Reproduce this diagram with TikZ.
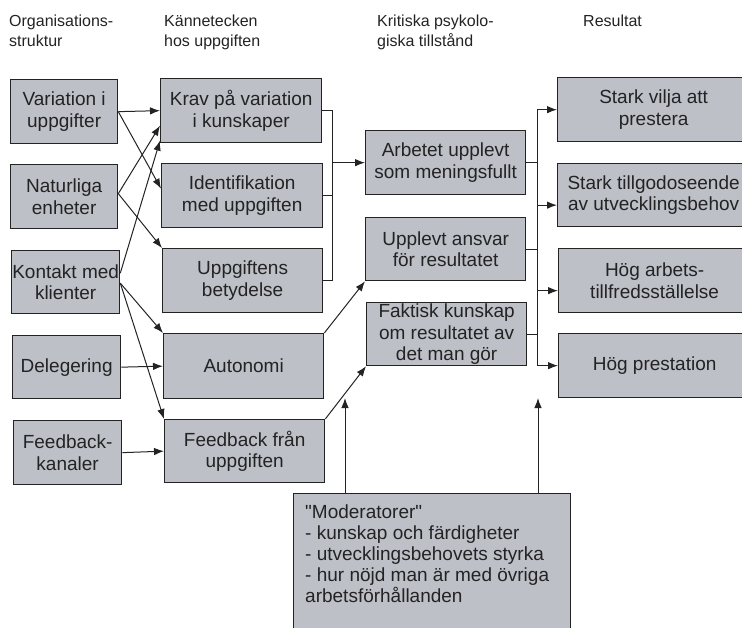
\documentclass[tikz,border=0pt]{standalone}
\usepackage{fontspec}
\setmainfont{Liberation Sans}
\newfontfamily\rawfont[Ligatures=TeXOff]{Liberation Sans}
\usetikzlibrary{arrows.meta}
\definecolor{boxfill}{RGB}{190,192,200}
\definecolor{ink}{RGB}{35,35,35}
\tikzset{
  box/.style={draw=ink, line width=1.3pt, fill=boxfill, rectangle, anchor=north west,
    inner sep=0pt, align=center, text=ink, font=\fontsize{19}{21.5}\selectfont},
  hdr/.style={anchor=north west, inner sep=0pt, align=left, text=ink,
    font=\fontsize{16}{20}\selectfont},
  conn/.style={draw=ink, line width=1pt},
  arr/.style={conn, -{Latex[length=10pt,width=7.5pt]}}
}
\begin{document}
\begin{tikzpicture}[x=1pt,y=-1pt]
\useasboundingbox (0,0) rectangle (742,627);
\begin{scope}
\clip (0,0) rectangle (742,627);
% headers
\node[hdr] (h1) at (9,15) {Organisations-\\struktur};
\node[hdr] (h2) at (164,15) {Kännetecken\\hos uppgiften};
\node[hdr] (h3) at (377,15) {Kritiska psykolo-\\giska tillstånd};
\node[hdr] (h4) at (583,15) {Resultat};
% column 1
\node[box, minimum width=107pt, minimum height=64pt] (v1) at (10,79) {Variation i\\uppgifter};
\node[box, minimum width=107pt, minimum height=64pt] (n1) at (10,164) {Naturliga\\enheter};
\node[box, minimum width=108pt, minimum height=63pt] (k1) at (11,250) {Kontakt med\\klienter};
\node[box, minimum width=108pt, minimum height=63pt] (d1) at (12,335) {Delegering};
\node[box, minimum width=108pt, minimum height=64pt] (f1) at (13,420) {Feedback-\\kanaler};
% column 2
\node[box, minimum width=161pt, minimum height=64pt] (krav) at (160,78) {Krav på variation\\i kunskaper};
\node[box, minimum width=161pt, minimum height=64pt] (ident) at (161,163) {Identifikation\\med uppgiften};
\node[box, minimum width=160pt, minimum height=64pt] (uppg) at (162,248) {Uppgiftens\\betydelse};
\node[box, minimum width=160pt, minimum height=65pt] (auto) at (163,333) {Autonomi};
\node[box, minimum width=160pt, minimum height=63pt] (fb) at (164,419) {Feedback från\\uppgiften};
% column 3
\node[box, minimum width=160pt, minimum height=64pt] (arb) at (365,130) {Arbetet upplevt\\som meningsfullt};
\node[box, minimum width=160pt, minimum height=63pt] (ans) at (365,217) {Upplevt ansvar\\för resultatet};
\node[box, minimum width=160pt, minimum height=63pt] (fak) at (366,302) {Faktisk kunskap\\om resultatet av\\det man gör};
% column 4
\node[box, minimum width=192pt, minimum height=64pt] (sv) at (557,77) {Stark vilja att\\prestera};
\node[box, minimum width=192pt, minimum height=63pt] (st) at (557,163) {Stark tillgodoseende\\av utvecklingsbehov};
\node[box, minimum width=192pt, minimum height=64pt] (ha) at (558,248) {Hög arbets-\\tillfredsställelse};
\node[box, minimum width=192pt, minimum height=64pt] (hp) at (558,333) {Hög prestation};
% moderators
\node[box, minimum width=277pt, minimum height=150pt] (mod) at (293,493) {};
\node[anchor=north west, inner sep=0pt, align=left, text=ink,
  font=\rawfont\fontsize{19}{20.8}\selectfont] (modtxt) at (305,505)
  {"Moderatorer"\\- kunskap och färdigheter\\- utvecklingsbehovets styrka\\- hur nöjd man är med övriga\\arbetsförhållanden};
\end{scope}
% column 1 -> column 2
\draw[arr] (v1.east) -- (krav.west);
\draw[arr] (v1.east) -- ([yshift=7pt]ident.west);
\draw[arr] ([yshift=3pt]n1.east) -- ([yshift=-15pt]krav.west);
\draw[arr] ([yshift=3pt]n1.east) -- (uppg.north west);
\draw[arr] ([yshift=9pt]k1.east) -- ([yshift=-30pt]krav.west);
\draw[arr] ([yshift=-1pt]k1.east) -- (auto.north west);
\draw[arr] ([yshift=-1pt]k1.east) -- (fb.north west);
\draw[arr] (d1.east) -- (auto.west);
\draw[arr] (f1.east) -- (fb.west);
% column 2 -> column 3
\coordinate (bx) at (332,0);
\draw[conn] (krav.east) -- (krav.east -| bx) -- (uppg.east -| bx) -- (uppg.east);
\draw[conn] (ident.east) -- (ident.east -| bx);
\draw[arr] (arb.west -| bx) -- (arb.west);
\draw[arr] (auto.north east) -- (ans.south west);
\draw[arr] (fb.north east) -- (fak.south west);
% column 3 -> column 4
\coordinate (cx) at (537,0);
\draw[conn] (sv.west -| cx) -- (hp.west -| cx);
\draw[conn] (arb.east) -- (arb.east -| cx);
\draw[conn] (ans.east) -- (ans.east -| cx);
\draw[conn] (fak.east) -- (fak.east -| cx);
\draw[arr] (sv.west -| cx) -- (sv.west);
\draw[arr] ([yshift=-10pt]st.west -| cx) -- ([yshift=-10pt]st.west);
\draw[arr] ([yshift=-10pt]ha.west -| cx) -- ([yshift=-10pt]ha.west);
\draw[arr] (hp.west -| cx) -- (hp.west);
% moderator arrows
\coordinate (m1) at (345,398);
\coordinate (m2) at (538,398);
\draw[arr] (mod.north -| m1) -- (m1);
\draw[arr] (mod.north -| m2) -- (m2);
\end{tikzpicture}
\end{document}
